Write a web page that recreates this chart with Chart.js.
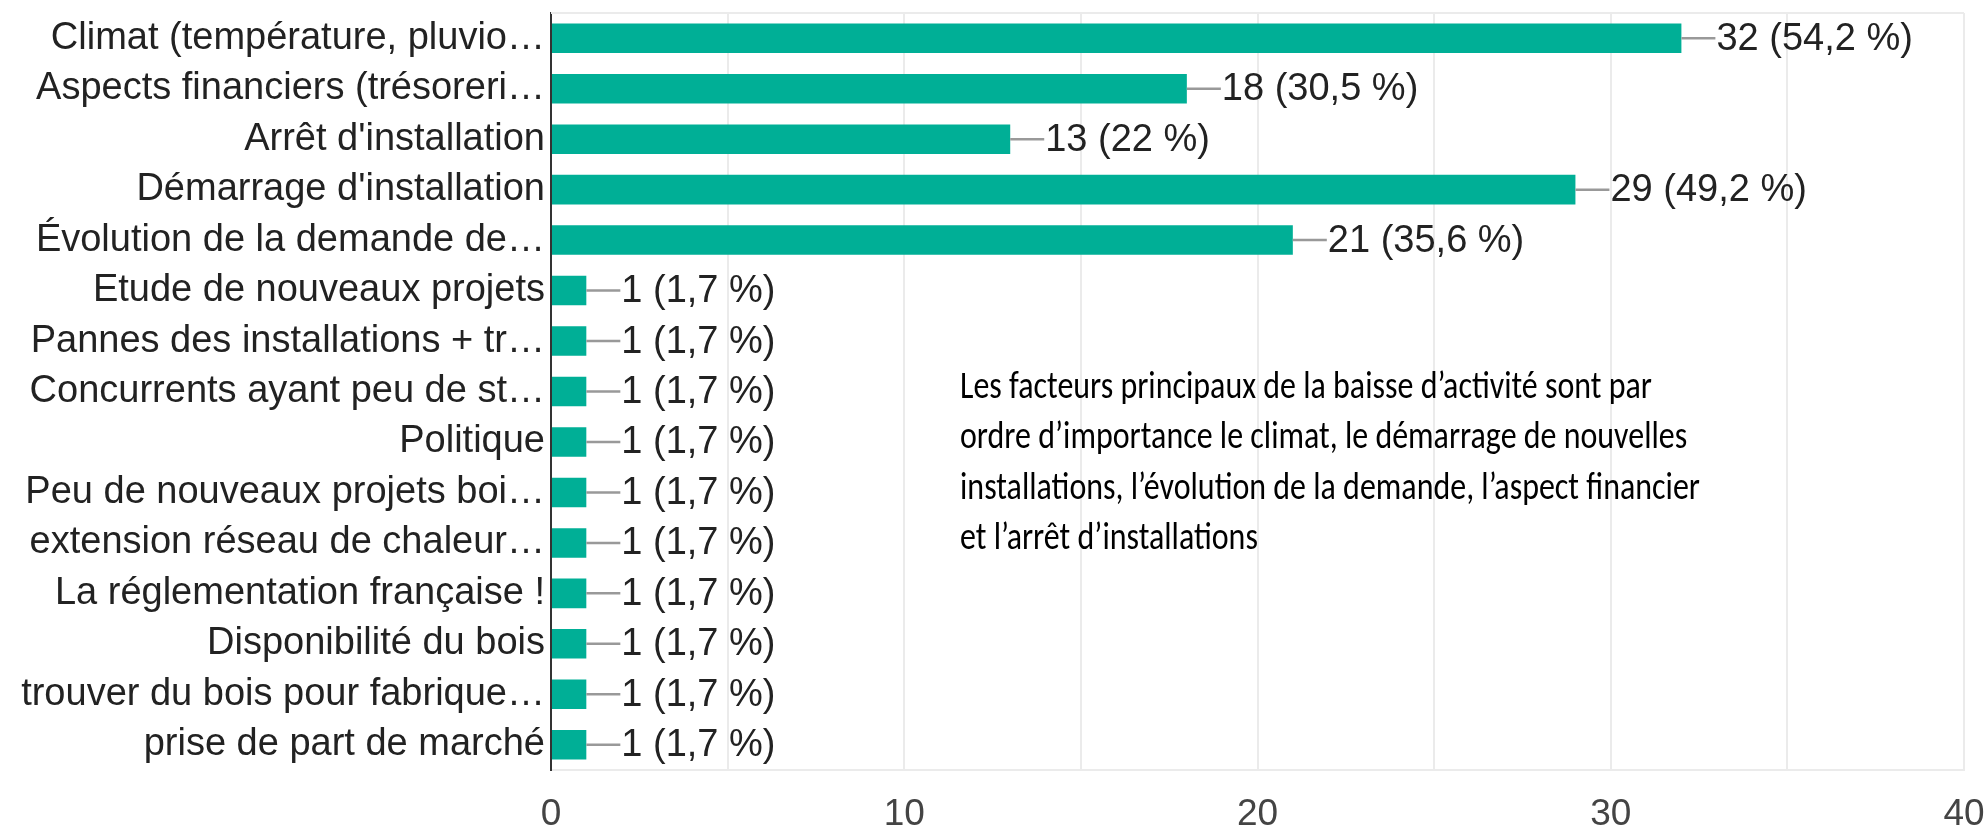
<!DOCTYPE html>
<html>
<head>
<meta charset="utf-8">
<script src="https://cdn.jsdelivr.net/npm/chart.js@4"></script>
<style>
	body { margin: 0; background: #fff; }
	canvas { display: block; }
</style>
</head>
<body>
<canvas id="mycanvas" width="1988" height="830"></canvas>
<script>
var categories = [
	"Climat (température, pluvio…",
	"Aspects financiers (trésoreri…",
	"Arrêt d'installation",
	"Démarrage d'installation",
	"Évolution de la demande de…",
	"Etude de nouveaux projets",
	"Pannes des installations + tr…",
	"Concurrents ayant peu de st…",
	"Politique",
	"Peu de nouveaux projets boi…",
	"extension réseau de chaleur…",
	"La réglementation française !",
	"Disponibilité du bois",
	"trouver du bois pour fabrique…",
	"prise de part de marché"
];
var counts = [32, 18, 13, 29, 21, 1, 1, 1, 1, 1, 1, 1, 1, 1, 1];
var percents = ["54,2", "30,5", "22", "49,2", "35,6", "1,7", "1,7", "1,7", "1,7", "1,7", "1,7", "1,7", "1,7", "1,7", "1,7"];
var xTicks = [0, 10, 20, 30, 40];
var note = [
	"Les facteurs principaux de la baisse d’activité sont par",
	"ordre d’importance le climat, le démarrage de nouvelles",
	"installations, l’évolution de la demande, l’aspect financier",
	"et l’arrêt d’installations"
];

var labelFont = '"Liberation Sans", Arial, sans-serif';

// value labels with a small grey connector
var valueLabels = {
	id: 'valueLabels',
	afterDatasetsDraw: function(chart) {
		var ctx = chart.ctx;
		var meta = chart.getDatasetMeta(0);
		ctx.save();
		ctx.font = '38px ' + labelFont;
		ctx.textBaseline = 'middle';
		ctx.textAlign = 'left';
		meta.data.forEach(function(bar, i) {
			ctx.strokeStyle = '#999';
			ctx.lineWidth = 2.5;
			ctx.beginPath();
			ctx.moveTo(bar.x, bar.y);
			ctx.lineTo(bar.x + 34, bar.y);
			ctx.stroke();
			ctx.fillStyle = '#222';
			ctx.fillText(counts[i] + ' (' + percents[i] + ' %)', bar.x + 35, bar.y + 1);
		});
		ctx.restore();
	}
};

// top border of the plot + the comment text
var extras = {
	id: 'extras',
	afterDraw: function(chart) {
		var ctx = chart.ctx;
		var a = chart.chartArea;
		ctx.save();
		ctx.strokeStyle = '#ebebeb';
		ctx.lineWidth = 2;
		ctx.beginPath();
		ctx.moveTo(a.left, a.top);
		ctx.lineTo(a.right, a.top);
		ctx.stroke();

		// narrow font like the original, squeezed to the same width
		ctx.font = '39px Carlito, Lato, sans-serif';
		var sx = Math.min(1, 692 / ctx.measureText(note[0]).width);
		ctx.translate(960, 0);
		ctx.scale(sx, 1);
		ctx.fillStyle = '#000';
		ctx.textAlign = 'left';
		ctx.textBaseline = 'middle';
		note.forEach(function(line, i) {
			ctx.fillText(line, 0, 388 + i * 50.5);
		});
		ctx.restore();
	}
};

var chartdata = {
	labels: categories,
	datasets: [
		{
			label: 'Réponses',
			backgroundColor: '#00af96',
			borderWidth: 0,
			barPercentage: 0.585,
			categoryPercentage: 1,
			data: counts
		}
	]
};

var ctx = document.getElementById('mycanvas');

var barGraph = new Chart(ctx, {
	type: 'bar',
	data: chartdata,
	plugins: [valueLabels, extras],
	options: {
		indexAxis: 'y',
		responsive: false,
		animation: false,
		devicePixelRatio: 1,
		layout: { padding: { top: 13, right: 24, left: 0, bottom: 0 } },
		plugins: {
			legend: { display: false },
			tooltip: { enabled: false }
		},
		scales: {
			x: {
				min: 0,
				max: 40,
				ticks: {
					stepSize: 5,
					padding: 23,
					color: '#444',
					font: { size: 37, family: labelFont },
					maxRotation: 0,
					autoSkip: false,
					callback: function(v) { return xTicks.indexOf(v) >= 0 ? String(v) : ''; }
				},
				grid: { color: '#ebebeb', lineWidth: 2, drawTicks: false },
				border: { color: '#ebebeb', width: 2 },
				afterFit: function(s) {
					s.height = 60;
					s.paddingLeft = 0;
					s.paddingRight = 0;
				}
			},
			y: {
				ticks: {
					padding: 6,
					color: '#222',
					font: { size: 38, family: labelFont },
					autoSkip: false
				},
				grid: { display: false, drawTicks: false },
				border: { color: '#333', width: 2 },
				afterFit: function(s) {
					s.width = 551;
					s.paddingTop = 0;
					s.paddingBottom = 0;
				}
			}
		}
	}
});
</script>
</body>
</html>
